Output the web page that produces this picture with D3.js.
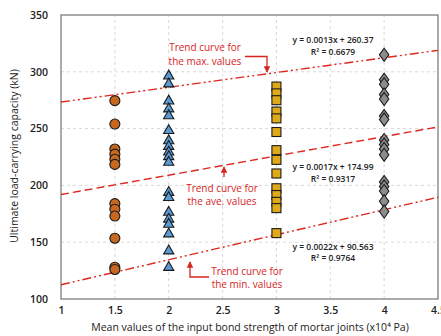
<!DOCTYPE html>
<html><head><meta charset="utf-8">
<script src="https://cdn.jsdelivr.net/npm/d3@7"></script>
<style>body{margin:0;background:#fff}svg{display:block}</style>
</head><body>
<script>
const xTicks = [1,1.5,2,2.5,3,3.5,4,4.5];
const yTicks = [100,150,200,250,300,350];
const circleX = 1.5;
const circleVals = [274.6,254,232,227.5,223,218.5,184,179,173,153.5,128,126];
const triX = 2;
const triVals = [297,290,275,268,262,249,240,235,230,226,221,194.5,190,177,171,166.5,158,143,128.5];
const squareX = 3;
const squareVals = [287,281,275,265,259,247,231,222.5,210.5,197.5,191.5,185.5,180,158];
const diamondX = 4;
const diamondVals = [315,293,289,280,276,261,258,240,236,232,227,203,199,195,186,177];
const trendNames = ["max","ave","min"];
const trendSlopes = [0.0013,0.0017,0.0022];
const trendIntercepts = [260.37,174.99,90.563];
const trendEq = ["y = 0.0013x + 260.37","y = 0.0017x + 174.99","y = 0.0022x + 90.563"];
const trendR2 = ["R² = 0.6679","R² = 0.9317","R² = 0.9764"];

const W=441,H=336;
const m={l:61,r:3,t:15,b:37};
const svg=d3.select("body").append("svg").attr("width",W).attr("height",H);
const x=d3.scaleLinear().domain([1,4.5]).range([m.l,W-m.r]);
const y=d3.scaleLinear().domain([100,350]).range([H-m.b,m.t]);
const font="'Open Sans', sans-serif";

// grid
svg.append("g").selectAll("line").data(xTicks.slice(1,-1)).join("line")
 .attr("x1",d=>x(d)).attr("x2",d=>x(d)).attr("y1",y(100)).attr("y2",y(350))
 .attr("stroke","#d9d9d9").attr("stroke-dasharray","3,3");
svg.append("g").selectAll("line").data(yTicks.slice(1,-1)).join("line")
 .attr("y1",d=>y(d)).attr("y2",d=>y(d)).attr("x1",x(1)).attr("x2",x(4.5))
 .attr("stroke","#d9d9d9").attr("stroke-dasharray","3,3");

// axes
const xa=svg.append("g").attr("transform",`translate(0,${y(100)})`)
 .call(d3.axisBottom(x).tickValues(xTicks).tickSize(0).tickPadding(8).tickFormat(d3.format("")));
const ya=svg.append("g").attr("transform",`translate(${x(1)},0)`)
 .call(d3.axisLeft(y).tickValues(yTicks).tickSize(0).tickPadding(13));
[xa,ya].forEach(a=>{a.select(".domain").remove();a.selectAll("text").attr("font-family",font).attr("font-size",10.5).attr("font-weight",600).attr("fill","#222");});

svg.append("rect").attr("x",x(1)).attr("y",y(350)).attr("width",x(4.5)-x(1)).attr("height",y(100)-y(350))
 .attr("fill","none").attr("stroke","#7f7f7f").attr("stroke-width",1.3);

// trend lines
const dashes=["9,3,2,3,2,3","8,4","9,3,2,3,2,3"];
svg.append("g").selectAll("line").data(trendSlopes).join("line")
 .attr("x1",x(1)).attr("x2",x(4.5))
 .attr("y1",(s,i)=>y(s*1e4*1+trendIntercepts[i]))
 .attr("y2",(s,i)=>y(s*1e4*4.5+trendIntercepts[i]))
 .attr("stroke","#e0261f").attr("stroke-width",1.4).attr("stroke-dasharray",(d,i)=>dashes[i]);

// markers
const g=svg.append("g").attr("stroke","#1a1a1a").attr("stroke-width",1.1);
g.selectAll(".c").data(circleVals).join("circle").attr("cx",x(circleX)).attr("cy",d=>y(d)).attr("r",5).attr("fill","#c8681e");
const tri=d3.symbol().type(d3.symbolTriangle).size(45);
g.selectAll(".t").data(triVals).join("path").attr("d",tri).attr("transform",d=>`translate(${x(triX)},${y(d)+0.8})`).attr("fill","#5b9bd5");
g.selectAll(".s").data(squareVals).join("rect").attr("x",x(squareX)-4.5).attr("y",d=>y(d)-4.5).attr("width",9).attr("height",9).attr("fill","#e0a919");
const dia=d3.symbol().type(d3.symbolDiamond).size(50);
g.selectAll(".d").data(diamondVals).join("path").attr("d",dia).attr("transform",d=>`translate(${x(diamondX)},${y(d)}) scale(1.25,1)`).attr("fill","#8c8c8c").attr("stroke-width",0.9);

// equations
const eqPos=[[333,40,52],[333,167,179],[333,247,258]];
trendEq.forEach((t,i)=>{
 svg.append("text").attr("x",eqPos[i][0]).attr("y",eqPos[i][1]+3).attr("text-anchor","middle").attr("font-family",font).attr("font-size",8.5).attr("font-weight",600).attr("fill","#222").text(t);
 svg.append("text").attr("x",eqPos[i][0]).attr("y",eqPos[i][2]+3).attr("text-anchor","middle").attr("font-family",font).attr("font-size",8.5).attr("font-weight",600).attr("fill","#222").text(trendR2[i]);
});

// annotations
const red="#d6241f";
const defs=svg.append("defs");
defs.append("marker").attr("id","ah").attr("viewBox","0 0 10 10").attr("refX",9).attr("refY",5)
 .attr("markerWidth",5).attr("markerHeight",5).attr("orient","auto")
 .append("path").attr("d","M0,0L10,5L0,10z").attr("fill",red);
const ann=[
 {lines:["Trend curve for","the max. values"],x:205,y:[47.5,61]},
 {lines:["Trend curve for","the ave. values"],x:222,y:[188,201.5]},
 {lines:["Trend curve for","the min. values"],x:247,y:[271,284.5]}];
ann.forEach(a=>{
 a.lines.forEach((l,i)=>svg.append("text").attr("text-anchor","middle").attr("font-family",font)
   .attr("font-size",10).attr("fill",red).attr("x",a.x).attr("y",a.y[i]+3.5).text(l));
});
const arrowPaths=["M245,56.5H267V72","M224,177V167","M209,277H190V262"];
svg.selectAll(".arr").data(arrowPaths).join("path").attr("d",d=>d).attr("fill","none")
 .attr("stroke",red).attr("stroke-width",1.3).attr("marker-end","url(#ah)");

// axis titles
svg.append("text").attr("x",250).attr("y",331).attr("text-anchor","middle").attr("font-family",font)
 .attr("font-size",10.5).attr("fill","#222").text("Mean values of the input bond strength of mortar joints (x10⁴ Pa)");
svg.append("text").attr("transform",`translate(18,${(y(100)+y(350))/2-1}) rotate(-90)`).attr("text-anchor","middle")
 .attr("font-family",font).attr("font-size",10.5).attr("fill","#222").text("Ultimate load-carrying capacity (kN)");
</script>
</body></html>
